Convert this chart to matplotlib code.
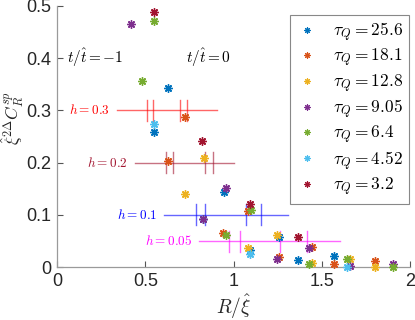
import matplotlib
matplotlib.use("Agg")
import matplotlib.pyplot as plt
from matplotlib.lines import Line2D

plt.rcParams['mathtext.fontset'] = 'cm'
plt.rcParams['font.family'] = ['Liberation Sans', 'DejaVu Sans']

# ---- data ----
tau_labels = ["25.6", "18.1", "12.8", "9.05", "6.4", "4.52", "3.2"]
colors = ["#0072BD", "#D95319", "#EDB120", "#7E2F8E", "#77AC30", "#4DBEEE", "#A2142F"]

x_256 = [0.629, 0.550, 0.943, 0.828, 1.092, 1.259, 1.366, 1.569]
y_256 = [0.343, 0.259, 0.143, 0.092, 0.033, 0.058, 0.013, 0.022]
x_181 = [0.724, 0.629, 0.941, 1.083, 1.442, 1.257, 1.569, 1.801]
y_181 = [0.287, 0.203, 0.065, 0.108, 0.039, 0.019, 0.006, 0.012]
x_128 = [0.832, 0.724, 1.079, 1.244, 1.442, 1.659, 1.801]
y_128 = [0.208, 0.140, 0.036, 0.061, 0.008, 0.015, 0.001]
x_905 = [0.418, 0.955, 0.828, 1.429, 1.245, 1.659, 1.901]
y_905 = [0.466, 0.152, 0.092, 0.036, 0.016, 0.002, 0.006]
x_64 = [0.550, 0.482, 0.955, 1.096, 1.429, 1.641, 1.901]
y_64 = [0.470, 0.357, 0.061, 0.110, 0.007, 0.015, 0.000]
x_452 = [0.550, 1.092, 1.641]
y_452 = [0.273, 0.025, 0.000]
x_32 = [0.550, 0.822, 1.092, 1.366]
y_32 = [0.488, 0.241, 0.120, 0.057]

series_x = [x_256, x_181, x_128, x_905, x_64, x_452, x_32]
series_y = [y_256, y_181, y_128, y_905, y_64, y_452, y_32]

h_values = [0.3, 0.2, 0.1, 0.05]
h_texts = ["0.3", "0.2", "0.1", "0.05"]
h_lo = [0.337, 0.440, 0.606, 0.803]
h_hi = [0.904, 1.003, 1.306, 1.603]
h_bars = [[0.507, 0.544, 0.696, 0.733],
          [0.616, 0.658, 0.837, 0.884],
          [0.786, 0.837, 1.068, 1.155],
          [0.975, 1.036, 1.264, 1.416]]
h_line_colors = ["#FF0000", "#A2142F", "#0000FF", "#FF00FF"]

# ---- figure ----
fig = plt.figure(figsize=(4.15, 3.2), dpi=100)
ax = fig.add_axes([0.138, 0.165, 0.850, 0.817])

asterisk = (8, 2, 0)

for hv, ht, lo, hi, bars, c in zip(h_values, h_texts, h_lo, h_hi, h_bars, h_line_colors):
    ax.plot([lo, hi], [hv, hv], color=c, lw=1.0, alpha=0.6, zorder=2)
    for b in bars:
        ax.plot([b, b], [hv - 0.02, hv + 0.02], color=c, lw=1.0, alpha=0.6, zorder=2)
    ax.annotate(r"$h = %s$" % ht, xy=(lo, hv), xytext=(-5, 0), textcoords="offset points",
                ha="right", va="center", color=c, fontsize=9.5, zorder=3)

for xs, ys, c, lab in zip(series_x, series_y, colors, tau_labels):
    ax.plot(xs, ys, ls="none", marker=asterisk, ms=6, mew=1.0, color=c,
            clip_on=False, zorder=4)

ax.text(0.053, 0.4, r"$t/\hat{t} = -1$", ha="left", va="center", fontsize=11)
ax.text(0.730, 0.4, r"$t/\hat{t} = 0$", ha="left", va="center", fontsize=11)

ax.set_xlim(0, 2)
ax.set_ylim(0, 0.5)
ax.set_xticks([0, 0.5, 1, 1.5, 2])
ax.set_xticklabels(["0", "0.5", "1", "1.5", "2"])
ax.set_yticks([0, 0.1, 0.2, 0.3, 0.4, 0.5])
ax.set_yticklabels(["0", "0.1", "0.2", "0.3", "0.4", "0.5"])

for s in ["top", "right"]:
    ax.spines[s].set_visible(False)
for s in ["left", "bottom"]:
    ax.spines[s].set_color("#9a9a9a")
    ax.spines[s].set_linewidth(0.9)
ax.tick_params(direction="in", length=4, width=0.8, color="#555555",
               labelsize=13, labelcolor="#262626", pad=4)

ax.set_xlabel(r"$R/\hat{\xi}$", fontsize=14, color="#262626", labelpad=2)
ax.set_ylabel(r"$\hat{\xi}^{2\Delta}C_R^{sp}$", fontsize=12.5, color="#262626")
ax.yaxis.set_label_coords(-0.09, 0.57)

handles = [Line2D([], [], ls="none", marker=asterisk, ms=4.5, mew=0.8, color=c) for c in colors]
labels = [r"$\tau_Q = %s$" % t for t in tau_labels]
leg = ax.legend(handles, labels, loc="upper left", bbox_to_anchor=(0.660, 0.965),
                borderaxespad=0, fontsize=12.5, frameon=True, fancybox=False,
                edgecolor="#888888", framealpha=1, handlelength=1.2, handletextpad=0.9,
                labelspacing=0.18, borderpad=0.35)
leg.get_frame().set_linewidth(0.8)

fig.savefig("out.png", dpi=100)
